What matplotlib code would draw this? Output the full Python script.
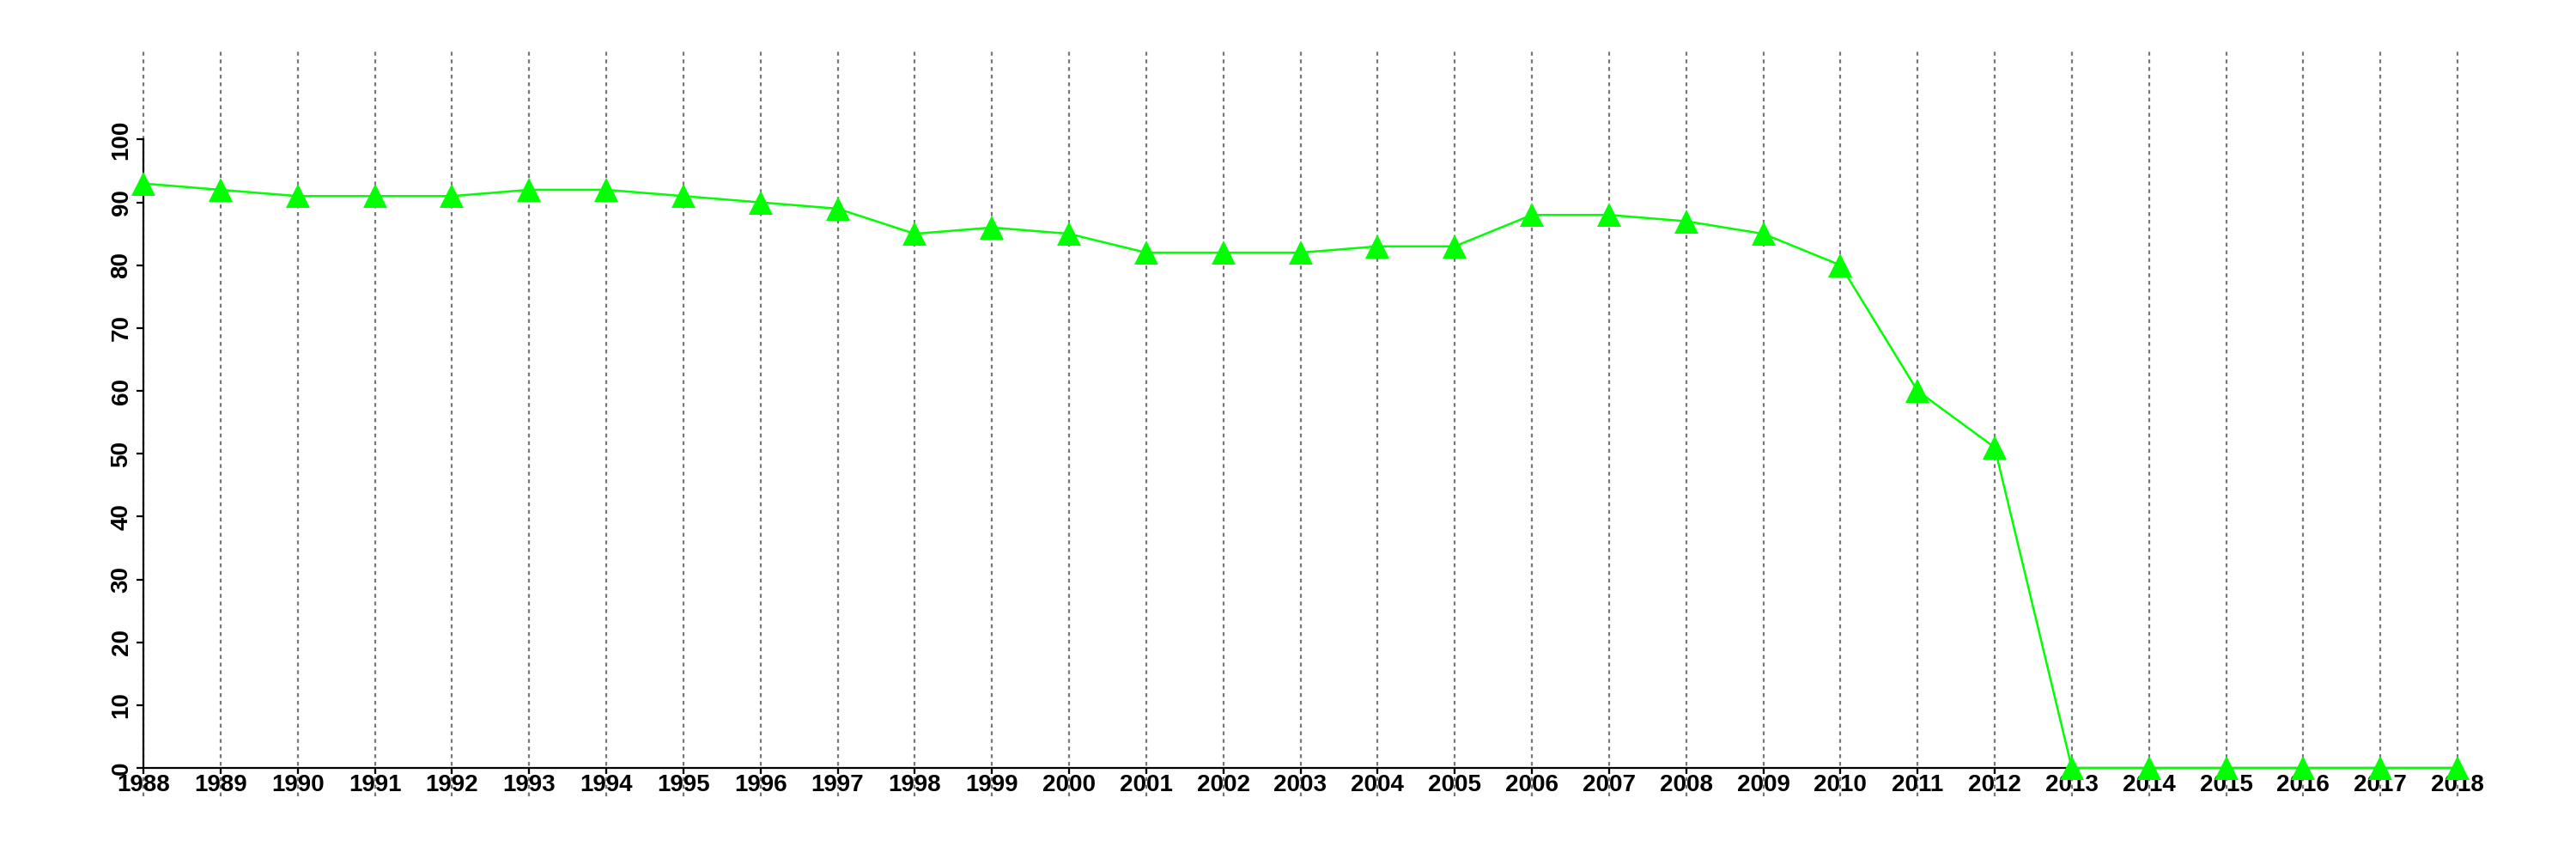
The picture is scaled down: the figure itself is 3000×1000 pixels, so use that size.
import matplotlib
matplotlib.use("Agg")
import matplotlib.pyplot as plt

years = list(range(1988, 2019))
values = [93, 92, 91, 91, 91, 92, 92, 91, 90, 89, 85, 86, 85, 82, 82, 82, 83, 83,
          88, 88, 87, 85, 80, 60, 51, 0, 0, 0, 0, 0, 0]
yticks = list(range(0, 101, 10))

plt.rcParams['font.family'] = ['Liberation Sans', 'DejaVu Sans']

fig = plt.figure(figsize=(30, 10), dpi=100)
ax = fig.add_axes([167 / 3000, 0.106, (2862 - 167) / 3000, 0.834])

# vertical dotted guides, running a little below the axis
for yr in years:
    ax.axvline(yr, ymin=-0.04, ymax=1.0, color="#777777", lw=1.6,
               linestyle=(0, (2, 2)), clip_on=False, zorder=1)

ax.plot(years, values, color="#00ff00", lw=1.8, marker="^", markersize=20,
        markeredgewidth=0, clip_on=False, zorder=3)

ax.set_xlim(1988, 2018)
ax.set_ylim(0, 114)
for s in ["top", "right"]:
    ax.spines[s].set_visible(False)
ax.spines["left"].set_bounds(0, 100)
ax.spines["bottom"].set_bounds(1988, 2018)
ax.spines["left"].set_linewidth(1.6)
ax.spines["bottom"].set_linewidth(1.6)

ax.set_xticks(years)
ax.set_xticklabels([str(y) for y in years], fontsize=20, fontweight="bold")
ax.set_yticks(yticks)
ax.set_yticklabels([str(v) for v in yticks], fontsize=20, fontweight="bold",
                   rotation=90, va="center")
ax.tick_params(axis="x", length=5, width=1.6, pad=0)
ax.tick_params(axis="y", length=6, width=1.6, pad=3)

fig.savefig("out.png", dpi=100)
